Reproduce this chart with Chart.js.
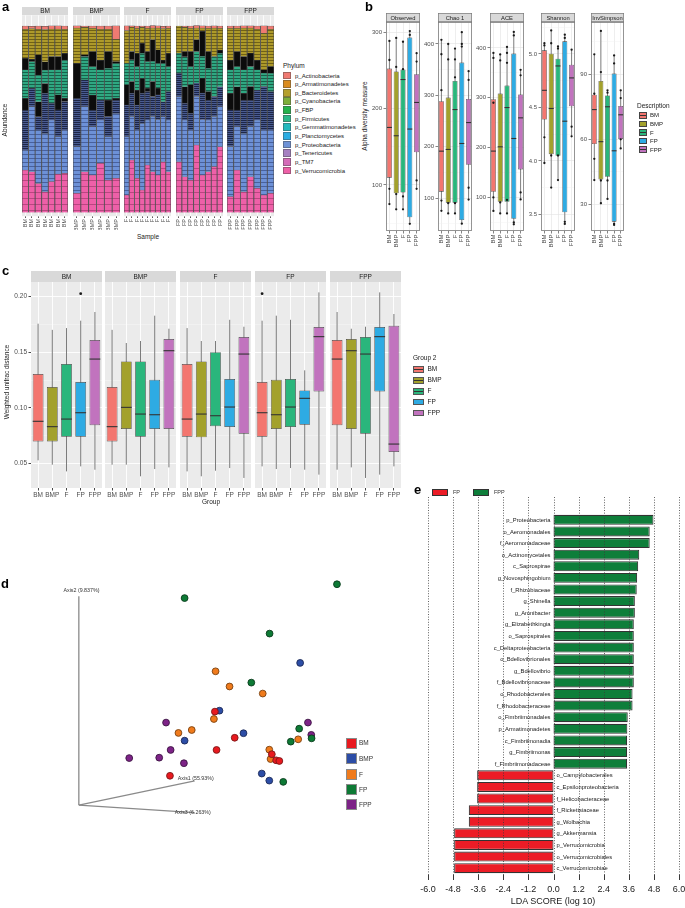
<!DOCTYPE html>
<html lang="en"><head><meta charset="utf-8"><title>Figure</title>
<script src="https://cdn.jsdelivr.net/npm/chart.js@4.4.1/dist/chart.umd.min.js"></script>
<style>
html,body{margin:0;padding:0;background:#fff;}
body{position:relative;width:685px;height:908px;overflow:hidden;font-family:"Liberation Sans",Arial,Helvetica,sans-serif;color:#1a1a1a;}
.t{position:absolute;white-space:nowrap;line-height:1;}
.k{position:absolute;box-sizing:border-box;}
canvas{position:absolute;}
</style></head><body>
<script>
// ================= DATA =================
// Panel a: relative abundance per sample (stacked, bottom -> top)
const sampleGroups = ['BM','BMP','F','FP','FPP'];
const samplesPerGroup = [7,6,9,8,7];
const phylumLegend = ['p_Actinobacteria','p_Armatimonadetes','p_Bacteroidetes','p_Cyanobacteria','p_FBP','p_Firmicutes','p_Gemmatimonadetes','p_Planctomycetes','p_Proteobacteria','p_Tenericutes','p_TM7','p_Verrucomicrobia'];
const phylumColors = ['#F07A72','#D98B1E','#B5A02C','#7DAE3A','#24B24C','#2CB88A','#22B9BD','#2BADE3','#6E92D6','#A680C2','#D46CB9','#EE60A8'];
const verrucomicrobia    = [234,225,160,114,170,212,216, 105,225,207,271,179,188, 96,290,188,124,262,225,207,280,225, 280,197,179,373,207,225,253,363, 87,234,114,197,133,96,105];
const proteobacteria     = [111,360,295,323,341,207,240, 258,360,267,240,240,360, 323,240,268,369,249,305,305,249,286, 360,314,277,268,305,286,277,221, 277,240,323,277,378,360,351];
const proteobacteriaRare = [221,101,74,221,92,148,157, 268,148,92,111,111,74, 175,129,138,166,157,111,138,83,157, 129,92,92,74,148,111,111,111, 203,92,185,148,166,240,212];
const lowAbundanceOTUs1  = [65,0,83,55,0,83,18, 194,0,83,0,92,9, 111,65,83,83,18,83,37,0,0, 0,92,157,0,83,46,0,0, 92,129,37,74,0,0,0];
const firmicutes         = [157,148,148,74,185,138,212, 0,129,157,166,175,194, 120,120,129,138,148,111,138,212,138, 111,166,101,175,120,129,221,185, 129,111,129,111,111,74,101];
const lowAbundanceOTUs2  = [64,13,111,46,74,74,37, 0,9,83,55,92,9, 0,46,74,55,55,120,74,18,74, 0,28,83,65,138,92,0,18, 55,83,74,74,55,18,37];
const bacteroidetes      = [161,170,142,179,152,152,133, 194,153,129,170,124,124, 181,135,138,89,129,65,120,175,138, 151,135,129,65,18,129,157,120, 175,129,157,138,170,203,207];
const actinobacteria     = [18,13,18,18,18,18,18, 13,7,13,18,18,74, 26,7,13,7,13,13,13,13,13, 0,7,13,13,13,13,13,13, 13,13,13,13,18,41,18];

// Panel b: alpha diversity boxplots (per metric, per group BM,BMP,F,FP,FPP)
const groups = ['BM','BMP','F','FP','FPP'];
const groupColors = ['#F3766F','#A3A12C','#2AB67C','#2EABE3','#C173BE'];
const alphaMetrics = ['Observed','Chao 1','ACE','Shannon','InvSimpson'];
const alphaQ1  = [[109.6,89,90,57.6,142.8],[112.3,90.9,91,57.2,164.7],[111.4,91.4,91.4,57.3,156.2],[4.387,4.063,4.048,3.519,4.511],[57.8,41.5,42.7,22,60.1]];
const alphaQ3  = [[252.8,249,251.5,293.4,245.4],[288.5,295.7,328,363.7,293],[297,308.5,324.5,388.6,306.5],[5.034,5.003,4.956,5.118,4.90],[80.6,86.9,80.2,90.3,75.4]];
const alphaMed = [[175.5,164.6,238.4,173.4,208.3],[191.3,194.6,272.3,206.2,247],[193,201.6,280.4,218.3,259.7],[4.66,4.49,4.888,4.371,4.776],[73.7,58.9,75,54.7,71.3]];
const alphaLo  = [[74.7,68.6,68.6,49,95.6],[74.7,70,70,49.4,97.4],[73.3,68,68,46,96],[3.976,3.749,3.82,3.41,4.23],[41.2,30.5,32.5,20.5,55.8]];
const alphaHi  = [[289,293.4,287.8,302,273.4],[408.4,400.6,391,423.3,346.9],[390.6,387.3,402,432,356.6],[5.10,5.22,5.065,5.18,5.04],[99.2,110,82.6,98.7,82.6]];
const alphaPoints = [
  [[289,264,95,75],[293,255,88,68],[288,252,85,68],[302,297,49],[273,262,106,95]],
  [[408,380,310,95,75],[400,370,90,70],[391,370,335,90,70],[423,400,395,50],[347,330,120,97]],
  [[390,380,290,100,73],[387,375,90,68],[402,390,370,95,68],[432,425,50,46],[356,345,110,96]],
  [[5.10,5.08,4.22,3.98],[5.22,5.10,4.05,3.75],[5.07,5.05,4.05,3.82],[5.18,5.15,3.43,3.41],[5.04,4.32,4.23]],
  [[99.2,81,51,41.2],[110,91,41,30.5],[82.6,81.5,41,32.5],[98.7,95,21,20.5],[82.6,79,60,55.8]]
];
const alphaAxisMin = [39.6,35.8,32.7,3.344,17.7];
const alphaAxisMax = [313.9,442.8,452,5.299,114.1];
const alphaTickStep = [50,50,50,0.25,15];
const alphaLabelStep = [100,100,100,0.5,30];

// Panel c: weighted UniFrac distance (facet = reference group, boxes = compared group)
const unifracQ1  = [[0.070,0.070,0.0742,0.0742,0.0844],[0.070,0.0811,0.0742,0.0811,0.0811],[0.0742,0.0736,0.0835,0.0829,0.0769],[0.0742,0.0811,0.0829,0.085,0.1148],[0.0844,0.0811,0.0769,0.1148,0.0605]];
const unifracQ3  = [[0.1304,0.1187,0.1393,0.1232,0.1609],[0.1187,0.1417,0.1417,0.1253,0.1617],[0.1393,0.1417,0.150,0.1259,0.1636],[0.1232,0.1253,0.1259,0.1157,0.1725],[0.1609,0.1617,0.1636,0.1725,0.1737]];
const unifracMed = [[0.088,0.0832,0.090,0.0957,0.1438],[0.0832,0.1005,0.0945,0.0939,0.1513],[0.090,0.0945,0.093,0.1008,0.1483],[0.0957,0.0939,0.1008,0.1086,0.1639],[0.1438,0.1513,0.1483,0.1639,0.0676]];
const unifracLo  = [[0.0530,0.0491,0.0431,0.0476,0.0446],[0.0491,0.0491,0.0387,0.0452,0.0467],[0.0431,0.0387,0.0437,0.0461,0.0372],[0.0476,0.0452,0.0461,0.0446,0.0402],[0.0446,0.0467,0.0372,0.0402,0.0476]];
const unifracHi  = [[0.1755,0.170,0.1716,0.1782,0.186],[0.170,0.1582,0.160,0.1827,0.171],[0.1716,0.160,0.160,0.179,0.1728],[0.1782,0.1827,0.179,0.1337,0.2036],[0.186,0.171,0.1728,0.2036,0.1842]];
const unifracOutliers = [[[],[],[],[0.2024],[]],[[],[],[],[],[]],[[],[],[],[],[]],[[0.2024],[],[],[],[]],[[],[],[],[],[]]];
const unifracTicks = [0.05,0.10,0.15,0.20];

// Panel d: PCoA (projected 3-D coordinates)
const pcoaColors  = ['#E8191F','#2C4DA6','#F07B1C','#0D7A35','#7D2387'];
const pcoaBorders = ['#7a1a1a','#1d2a58','#7a4312','#0a3b1c','#3c1543'];
const pcoaX = [[215,235.3,216.7,273.3,277.7,281,169],[302.3,219.7,244.3,184,263,270.7],[215.7,230,264,214,177.7,191.3,270.7,272,300.3],[340,184,271,252.3,301.3,292.7,314,285],[165,310.3,313.7,169.7,127.3,158,183.3]];
const pcoaY = [[151.7,178.7,191.3,195.7,202,202.7,218],[101.3,150.7,174,181.7,215.7,223],[110,125.7,133,159.3,173.7,170.7,191,200.7,180.3],[20,34.3,71,121.7,169.3,182.7,179.3,224.3],[163,163,175.7,191.3,199.7,199.3,205]];
const pcoaAxisNames = ['Axis1 (55.93%)','Axis2 (9.837%)','Axis3 (6.263%)'];
const pcoaOrigin = [75.7,248.3];
const pcoaAxisEnds = [[194.3,223.3],[75.7,32.3],[194.3,256]];
const pcoaAxisLabelPos = [[177,221],[60,26],[174,255.7]];

// Panel e: LEfSe LDA scores
const ldaTaxa = ['p_Proteobacteria','o_Aeromonadales','f_Aeromonadaceae','o_Actinomycetales','c_Saprospirae','g_Novosphingobium','f_Rhizobiaceae','g_Shinella','g_Amnibacter','g_Elizabethkingia','o_Saprospirales','c_Deltaproteobacteria','o_Bdellovibrionales','g_Bdellovibrio','f_Bdellovibrionaceae','o_Rhodobacterales','f_Rhodobacteraceae','o_Fimbriimonadales','p_Armatimonadetes','c_Fimbriimonadia','g_Fimbriimonas','f_Fimbriimonadaceae','o_Campylobacterales','c_Epsilonproteobacteria','f_Helicobacteraceae','f_Rickettsiaceae','g_Wolbachia','g_Akkermansia','p_Verrucomicrobia','o_Verrucomicrobiales','c_Verrucomicrobiae'];
const ldaScore = [4.78,4.6,4.6,4.1,4.05,4.0,3.98,3.89,3.89,3.84,3.84,3.84,3.84,3.84,3.84,3.78,3.78,3.55,3.53,3.52,3.52,3.52,3.65,3.65,3.65,4.05,4.05,4.75,4.75,4.75,4.75];
const ldaClass = ['FPP','FPP','FPP','FPP','FPP','FPP','FPP','FPP','FPP','FPP','FPP','FPP','FPP','FPP','FPP','FPP','FPP','FPP','FPP','FPP','FPP','FPP','FP','FP','FP','FP','FP','FP','FP','FP','FP'];
const ldaClasses = ['FP','FPP'];
const ldaColors = ['#EC1C26','#0E7E3A'];

// ================= HELPERS =================
const FONT = '"Liberation Sans", Arial, Helvetica, sans-serif';
Chart.defaults.font.family = FONT;
Chart.defaults.color = '#4d4d4d';

function mk(left, top, w, h, cfg) {
  const c = document.createElement('canvas');
  c.width = w; c.height = h;
  c.style.left = left + 'px'; c.style.top = top + 'px';
  c.style.width = w + 'px'; c.style.height = h + 'px';
  document.body.appendChild(c);
  cfg.options = Object.assign({responsive:false, animation:false, devicePixelRatio:1, events:[]}, cfg.options || {});
  return new Chart(c.getContext('2d'), cfg);
}
function text(s, x, y, size, o = {}) {
  const d = document.createElement('div');
  d.className = 't'; d.textContent = s;
  d.style.fontSize = size + 'px';
  d.style.left = x + 'px'; d.style.top = y + 'px';
  d.style.transform = (o.center ? 'translate(-50%,-50%)' : 'translateY(-50%)') + (o.rot ? ' rotate(' + o.rot + 'deg)' : '');
  if (o.bold) d.style.fontWeight = 'bold';
  d.style.color = o.color || '#1a1a1a';
  document.body.appendChild(d);
  return d;
}
function key(x, y, w, h, bg, border) {
  const d = document.createElement('div');
  d.className = 'k';
  d.style.cssText += `left:${x}px;top:${y}px;width:${w}px;height:${h}px;background:${bg};` + (border ? `border:1px solid ${border};` : '');
  document.body.appendChild(d);
}
function stripes(base, line, gap) {
  const c = document.createElement('canvas'); c.width = 4; c.height = gap;
  const g = c.getContext('2d');
  g.fillStyle = base; g.fillRect(0, 0, 4, gap);
  g.fillStyle = line; g.fillRect(0, gap - 1, 4, 1);
  return g.createPattern(c, 'repeat');
}
function stripPlug(label, h, fill, stroke, fs) {
  return {id:'strip', beforeDraw(ch) {
    const a = ch.chartArea, g = ch.ctx; g.save();
    g.fillStyle = fill; g.fillRect(a.left, a.top - h, a.right - a.left, h);
    if (stroke) { g.strokeStyle = stroke; g.lineWidth = 0.7; g.strokeRect(a.left + 0.35, a.top - h + 0.35, a.right - a.left - 0.7, h - 0.7); }
    g.fillStyle = '#1a1a1a'; g.font = fs + 'px ' + FONT; g.textAlign = 'center'; g.textBaseline = 'middle';
    g.fillText(label, (a.left + a.right) / 2, a.top - h / 2 + 0.5);
    g.restore();
  }};
}
function bgPlug(fill, border) {
  return {id:'panelbg',
    beforeDraw(ch) { const a = ch.chartArea, g = ch.ctx; g.save(); g.fillStyle = fill; g.fillRect(a.left, a.top, a.right - a.left, a.bottom - a.top); g.restore(); },
    afterDraw(ch) { if (!border) return; const a = ch.chartArea, g = ch.ctx; g.save(); g.strokeStyle = border; g.lineWidth = 0.8; g.strokeRect(a.left + 0.4, a.top + 0.4, a.right - a.left - 0.8, a.bottom - a.top - 0.8); g.restore(); }
  };
}
const boxPlug = {
  id:'boxplot',
  beforeDatasetsDraw(ch) {
    const g = ch.ctx, ys = ch.scales.y;
    ch.data.datasets.forEach((ds, di) => {
      if (!ds.lo) return;
      const meta = ch.getDatasetMeta(di);
      g.save(); g.strokeStyle = ds.whiskerColor; g.lineWidth = ds.whiskerWidth;
      meta.data.forEach((el, i) => {
        g.beginPath(); g.moveTo(el.x, ys.getPixelForValue(ds.lo[i])); g.lineTo(el.x, ys.getPixelForValue(ds.hi[i])); g.stroke();
      });
      g.restore();
    });
  },
  afterDatasetsDraw(ch) {
    const g = ch.ctx, ys = ch.scales.y;
    ch.data.datasets.forEach((ds, di) => {
      if (!ds.med) return;
      const meta = ch.getDatasetMeta(di);
      g.save();
      meta.data.forEach((el, i) => {
        const w = el.width, y = ys.getPixelForValue(ds.med[i]);
        g.strokeStyle = ds.medianColor; g.lineWidth = ds.medianWidth;
        g.beginPath(); g.moveTo(el.x - w / 2, y); g.lineTo(el.x + w / 2, y); g.stroke();
        ((ds.out && ds.out[i]) || []).forEach(v => {
          g.beginPath(); g.arc(el.x, ys.getPixelForValue(v), 1.4, 0, Math.PI * 2); g.fillStyle = '#1a1a1a'; g.fill();
        });
      });
      g.restore();
    });
  }
};

// ================= PANEL A =================
const aSegments = [
  {name:'p_Verrucomicrobia', values:verrucomicrobia, fill:stripes('#EE60A8','rgba(120,40,80,0.45)',6)},
  {name:'p_Proteobacteria', values:proteobacteria, fill:stripes('#6D91D7','rgba(35,50,100,0.5)',4)},
  {name:'p_Proteobacteria (rare OTUs)', values:proteobacteriaRare, fill:stripes('#4A5C92','rgba(10,15,40,0.7)',2)},
  {name:'low-abundance OTUs', values:lowAbundanceOTUs1, fill:'#0c0c0c'},
  {name:'p_Firmicutes', values:firmicutes, fill:stripes('#2FA882','rgba(10,60,45,0.65)',3)},
  {name:'low-abundance OTUs ', values:lowAbundanceOTUs2, fill:'#0c0c0c'},
  {name:'p_Bacteroidetes', values:bacteroidetes, fill:stripes('#AE9A2A','rgba(70,60,10,0.6)',3)},
  {name:'p_Actinobacteria', values:actinobacteria, fill:'#EF7A72'}
];
const aLeft = [22,73,124,176,227], aW = [46,47,47,47,47];
let s0 = 0;
sampleGroups.forEach((grp, gi) => {
  const n = samplesPerGroup[gi], first = gi === 0, yW = first ? 22 : 0;
  const labels = Array.from({length:n}, () => grp);
  const datasets = aSegments.map(seg => ({label:seg.name, data:seg.values.slice(s0, s0 + n), backgroundColor:seg.fill,
    borderColor:'#4f4f4f', borderWidth:{top:0.5,left:0.8,right:0.8,bottom:0}, borderSkipped:false,
    barPercentage:1, categoryPercentage:1, stack:'otu'}));
  s0 += n;
  const maj = v => v % 250 === 0;
  mk(aLeft[gi] - yW, 7, yW + aW[gi], 8 + 201 + 14, {type:'bar', data:{labels, datasets}, options:{
    layout:{padding:{top:8,left:0,right:0,bottom:0}},
    plugins:{legend:{display:false}, tooltip:{enabled:false}},
    scales:{
      x:{stacked:true, grid:{color:'#ffffff', lineWidth:0.8, offset:false, drawTicks:true, tickLength:2, tickColor:'#333'}, border:{display:false},
        ticks:{autoSkip:false, minRotation:90, maxRotation:90, font:{size:5.5}, color:'#4d4d4d', padding:1},
        afterFit(s){ s.height = 14; s.paddingLeft = 0; s.paddingRight = 0; }},
      y:{stacked:true, min:-20, max:1092,
        grid:{color:c => (c.tick && maj(c.tick.value)) ? '#ffffff' : '#f6f6f6', lineWidth:c => (c.tick && maj(c.tick.value)) ? 0.8 : 0.4,
          drawTicks:first, tickLength:2.5, tickColor:c => (c.tick && maj(c.tick.value)) ? '#333' : 'rgba(0,0,0,0)'},
        border:{display:false},
        ticks:{display:first, stepSize:125, includeBounds:false, autoSkip:false, font:{size:6}, color:'#4d4d4d', padding:1.5, callback:v => maj(v) ? String(v) : ''},
        afterFit(s){ s.width = yW; s.paddingTop = 0; s.paddingBottom = 0; }}
    }}, plugins:[bgPlug('#ebebeb'), stripPlug(grp, 8, '#d9d9d9', null, 6.5)]});
});

// ================= BOX FACET BUILDER =================
function boxFacet(o) {
  const ds = [{type:'bar', label:o.strip, data:o.q1.map((v, i) => [v, o.q3[i]]), backgroundColor:o.colors,
    borderColor:o.boxBorder, borderWidth:o.boxBW, borderSkipped:false, barPercentage:o.barPct, categoryPercentage:1, order:1,
    lo:o.lo, hi:o.hi, med:o.med, out:o.out, whiskerColor:o.whiskerColor, whiskerWidth:o.whiskerWidth, medianColor:o.medianColor, medianWidth:o.medianWidth}];
  if (o.pts) ds.push({type:'scatter', label:o.strip + ' samples', data:o.pts.flatMap((arr, i) => arr.map(v => ({x:o.labels[i], y:v}))),
    pointRadius:1.15, pointBackgroundColor:'#1a1a1a', pointBorderWidth:0, order:0});
  const isMaj = v => Math.abs(v / o.major - Math.round(v / o.major)) < 1e-6;
  const showY = o.yW > 0;
  return mk(o.areaLeft - o.yW, o.top, o.yW + o.areaW, o.stripH + o.areaH + o.xH, {type:'bar', data:{labels:o.labels, datasets:ds}, options:{
    layout:{padding:{top:o.stripH,left:0,right:0,bottom:0}},
    plugins:{legend:{display:false}, tooltip:{enabled:false}},
    scales:{
      x:{grid:{color:o.gridMajor, lineWidth:o.gridMajorW, offset:false, drawTicks:true, tickLength:2.5, tickColor:'#333'}, border:{display:false},
        ticks:{autoSkip:false, minRotation:o.rot, maxRotation:o.rot, font:{size:o.fs}, color:'#4d4d4d', padding:1},
        afterFit(s){ s.height = o.xH; s.paddingLeft = 0; s.paddingRight = 0; }},
      y:{min:o.min, max:o.max,
        grid:{color:c => (c.tick && isMaj(c.tick.value)) ? o.gridMajor : o.gridMinor, lineWidth:c => (c.tick && isMaj(c.tick.value)) ? o.gridMajorW : o.gridMinorW,
          drawTicks:showY, tickLength:2.5, tickColor:c => (c.tick && isMaj(c.tick.value)) ? '#333' : 'rgba(0,0,0,0)'},
        border:{display:false},
        ticks:{display:showY, stepSize:o.step, includeBounds:false, autoSkip:false, font:{size:o.fs}, color:'#4d4d4d', padding:1.5, callback:v => isMaj(v) ? o.fmt(v) : ''},
        afterFit(s){ s.width = o.yW; s.paddingTop = 0; s.paddingBottom = 0; }}
    }}, plugins:[bgPlug(o.bg, o.border), stripPlug(o.strip, o.stripH, '#d9d9d9', o.stripBorder, o.stripFs), boxPlug]});
}

// ================= PANEL B =================
const bLeft = [386,438,490,541,591], bW = [38,38,38,38,37];
alphaMetrics.forEach((m, mi) => {
  boxFacet({strip:m, labels:groups, colors:groupColors, areaLeft:bLeft[mi], areaW:bW[mi], top:13, stripH:9, areaH:209, xH:20, yW:16,
    min:alphaAxisMin[mi], max:alphaAxisMax[mi], step:alphaTickStep[mi], major:alphaLabelStep[mi],
    fmt: mi === 3 ? (v => v.toFixed(1)) : (v => String(Math.round(v))),
    q1:alphaQ1[mi], q3:alphaQ3[mi], med:alphaMed[mi], lo:alphaLo[mi], hi:alphaHi[mi], pts:alphaPoints[mi],
    boxBorder:'#333', boxBW:0.6, barPct:0.74, whiskerColor:'#333', whiskerWidth:0.6, medianColor:'#333', medianWidth:1.1,
    bg:'#ffffff', border:'#7a7a7a', gridMajor:'#e2e2e2', gridMajorW:0.6, gridMinor:'#f1f1f1', gridMinorW:0.4,
    stripBorder:'#7a7a7a', stripFs:5.8, fs:6, rot:90});
});

// ================= PANEL C =================
const cLeft = [31,105,180,255,330];
groups.forEach((g, gi) => {
  boxFacet({strip:g, labels:groups, colors:groupColors, areaLeft:cLeft[gi], areaW:71, top:271, stripH:11, areaH:206, xH:12, yW: gi === 0 ? 31 : 0,
    min:0.0282, max:0.2129, step:0.025, major:0.05, fmt:v => v.toFixed(2),
    q1:unifracQ1[gi], q3:unifracQ3[gi], med:unifracMed[gi], lo:unifracLo[gi], hi:unifracHi[gi], out:unifracOutliers[gi],
    boxBorder:'#444', boxBW:0.7, barPct:0.76, whiskerColor:'#5a5a5a', whiskerWidth:0.8, medianColor:'#333', medianWidth:1.1,
    bg:'#ebebeb', border:null, gridMajor:'#ffffff', gridMajorW:0.9, gridMinor:'rgba(255,255,255,0.75)', gridMinorW:0.45,
    stripBorder:null, stripFs:6.5, fs:6.5, rot:0});
});

// ================= PANEL D =================
const pcoaLabelPlug = {id:'pcoaLabels', afterDraw(ch) {
  const g = ch.ctx, xs = ch.scales.x, ys = ch.scales.y; g.save();
  g.font = '5.3px ' + FONT; g.fillStyle = '#333'; g.textAlign = 'left'; g.textBaseline = 'middle';
  pcoaAxisNames.forEach((nm, i) => g.fillText(nm, xs.getPixelForValue(pcoaAxisLabelPos[i][0]), ys.getPixelForValue(pcoaAxisLabelPos[i][1])));
  g.restore();
}};
const dDatasets = [];
pcoaAxisEnds.forEach((e, i) => dDatasets.push({type:'line', label:pcoaAxisNames[i], data:[{x:pcoaOrigin[0], y:pcoaOrigin[1]}, {x:e[0], y:e[1]}],
  borderColor:'#8a8a8a', borderWidth:1.3, pointRadius:0, showLine:true, order:10}));
groups.forEach((g, gi) => dDatasets.push({type:'scatter', label:g, data:pcoaX[gi].map((x, i) => ({x, y:pcoaY[gi][i]})),
  pointRadius:3.4, pointBackgroundColor:pcoaColors[gi], pointBorderColor:pcoaBorders[gi], pointBorderWidth:0.9, order:0}));
mk(0, 560, 420, 300, {type:'scatter', data:{datasets:dDatasets}, options:{
  layout:{padding:0}, plugins:{legend:{display:false}, tooltip:{enabled:false}},
  scales:{x:{display:false, type:'linear', min:0, max:420}, y:{display:false, min:0, max:300, reverse:true}}
}, plugins:[pcoaLabelPlug]});

// ================= PANEL E =================
const ldaPlug = {id:'lda', afterDatasetsDraw(ch) {
  const g = ch.ctx, xs = ch.scales.x, ys = ch.scales.y, ca = ch.chartArea; g.save();
  g.strokeStyle = '#3a3a3a'; g.lineWidth = 0.8; g.setLineDash([1, 1.6]);
  xs.ticks.forEach(t => { const x = Math.round(xs.getPixelForValue(t.value)) + 0.5; g.beginPath(); g.moveTo(x, 17); g.lineTo(x, ca.bottom + 1); g.stroke(); });
  g.setLineDash([]); g.strokeStyle = '#222'; g.lineWidth = 0.9;
  xs.ticks.forEach(t => { const x = Math.round(xs.getPixelForValue(t.value)) + 0.5; g.beginPath(); g.moveTo(x, ca.bottom + 1); g.lineTo(x, ca.bottom + 6); g.stroke(); });
  const x0 = xs.getPixelForValue(0);
  g.font = '5.8px ' + FONT; g.fillStyle = '#1a1a1a'; g.textBaseline = 'middle';
  ch.data.labels.forEach((lab, i) => {
    const v = ch.data.datasets[0].data[i], y = ys.getPixelForValue(i);
    g.textAlign = v > 0 ? 'right' : 'left';
    g.fillText(lab, v > 0 ? x0 - 3 : x0 + 3, y + 0.5);
  });
  g.restore();
}};
mk(420, 480, 265, 428, {type:'bar', data:{labels:ldaTaxa, datasets:[{label:'LDA', data:ldaScore.map((v, i) => ldaClass[i] === 'FP' ? -v : v),
  backgroundColor:ldaClass.map(c => ldaColors[ldaClasses.indexOf(c)]), borderColor:'#333', borderWidth:1.1, borderSkipped:false,
  barPercentage:0.86, categoryPercentage:1}]}, options:{
  indexAxis:'y', layout:{padding:{left:8, right:6, top:34, bottom:0}},
  plugins:{legend:{display:false}, tooltip:{enabled:false}},
  scales:{
    x:{min:-6, max:6, grid:{display:false, drawTicks:false}, border:{display:false},
      ticks:{stepSize:1.2, autoSkip:false, font:{size:9}, color:'#1a1a1a', padding:10, maxRotation:0, callback:v => Number(v).toFixed(1)},
      afterFit(s){ s.height = 34; s.paddingLeft = 0; s.paddingRight = 0; }},
    y:{display:false, offset:true}
  }}, plugins:[ldaPlug]});

// ================= TEXT, LEGENDS =================
text('a', 2, 6, 13, {bold:true, color:'#000'});
text('b', 365, 6, 13, {bold:true, color:'#000'});
text('c', 2, 270, 13, {bold:true, color:'#000'});
text('d', 1, 583, 13, {bold:true, color:'#000'});
text('e', 414, 489, 13, {bold:true, color:'#000'});

text('Abundance', 5, 120, 6.5, {center:true, rot:-90});
text('Sample', 148, 237, 6.5, {center:true});
text('Alpha diversity measure', 365, 116, 6.5, {center:true, rot:-90});
text('Weighted unifrac distance', 7, 382, 6.5, {center:true, rot:-90});
text('Group', 211, 502, 6.5, {center:true});
text('LDA SCORE (log 10)', 553, 901, 9, {center:true});

// panel a legend
text('Phylum', 283, 66, 6.5);
phylumLegend.forEach((nm, i) => {
  key(283, 71.5 + i * 8.64, 8, 7.8, phylumColors[i], 'rgba(70,70,70,0.45)');
  text(nm, 295, 75.5 + i * 8.64, 6);
});
// panel b legend
text('Description', 637, 106, 6.5);
groups.forEach((g, i) => {
  key(639, 112 + i * 8.6, 7.5, 6.5, `linear-gradient(to bottom, ${groupColors[i]} 42%, #333 42%, #333 62%, ${groupColors[i]} 62%)`, '#444');
  text(g, 650, 115.3 + i * 8.6, 6);
});
// panel c legend
text('Group 2', 413, 358, 6.5);
groups.forEach((g, i) => {
  key(413, 366 + i * 10.9, 10.5, 6.8, `linear-gradient(to bottom, ${groupColors[i]} 42%, #333 42%, #333 62%, ${groupColors[i]} 62%)`, '#555');
  text(g, 427.5, 369.4 + i * 10.9, 6.5);
});
// panel d legend
const dKeyTop = [737.7,753.3,769,784.3,799.3];
groups.forEach((g, i) => {
  key(346, dKeyTop[i], 11, 11, pcoaColors[i], '#8a8a8a');
  text(g, 359, dKeyTop[i] + 5.7, 6.5, {color:'#333'});
});
// panel e legend
ldaClasses.forEach((c, i) => {
  key(i === 0 ? 432 : 473, 489, 15.5, 6.8, ldaColors[i], '#333');
  text(c, i === 0 ? 453 : 494, 492.5, 5.5, {color:'#333'});
});
</script>
</body></html>
